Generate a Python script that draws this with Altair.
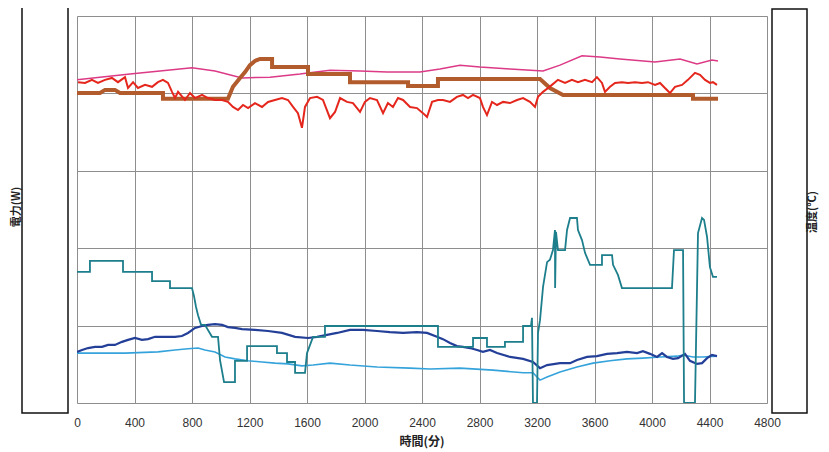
import altair as alt
import pandas as pd

x_ticks = list(range(0, 4801, 400))
y_grid = [0, 20, 40, 60, 80, 100]

# Pink (upper temperature-like smooth line)
pink_t = [0, 160, 369, 577, 800, 960, 1148, 1343, 1551, 1760, 1969, 2157, 2386, 2525, 2664, 2803,
          3012, 3242, 3360, 3513, 3638, 3777, 4021, 4195, 4313, 4417, 4459]
pink_v = [83.5, 84.2, 85.0, 85.8, 86.6, 85.8, 84.0, 84.2, 85.0, 86.0, 85.8, 85.5, 85.5, 86.3, 87.3, 86.8,
          86.3, 85.8, 87.3, 89.7, 89.4, 88.9, 88.1, 88.9, 87.6, 88.6, 88.4]

# Red noisy line
red_t = [7, 56, 104, 146, 195, 243, 285, 334, 355, 390, 424, 473, 522, 563, 598, 633, 661, 682, 703, 751,
         786, 821, 870, 911, 960, 1009, 1050, 1085, 1120, 1155, 1190, 1238, 1287, 1329, 1377, 1426, 1468,
         1503, 1537, 1565, 1586, 1621, 1670, 1711, 1760, 1795, 1830, 1878, 1920, 1969, 2003, 2038, 2087,
         2129, 2163, 2198, 2233, 2268, 2317, 2365, 2407, 2435, 2470, 2511, 2546, 2595, 2643, 2685, 2720,
         2755, 2803, 2824, 2852, 2887, 2922, 2964, 3012, 3061, 3103, 3151, 3186, 3207, 3242, 3277, 3304,
         3346, 3395, 3443, 3485, 3534, 3583, 3617, 3652, 3673, 3708, 3743, 3791, 3833, 3882, 3930, 3972,
         4021, 4056, 4090, 4125, 4160, 4209, 4250, 4299, 4334, 4369, 4403, 4424, 4452]
red_v = [82.9, 82.7, 83.5, 82.7, 83.5, 84.0, 82.9, 84.2, 81.4, 82.9, 81.4, 82.2, 81.7, 82.9, 83.5, 82.7,
         80.4, 78.8, 80.4, 78.3, 80.1, 78.8, 79.6, 78.8, 78.3, 78.3, 77.8, 76.5, 75.7, 77.0, 76.2, 77.5,
         76.5, 77.8, 78.3, 78.8, 78.3, 76.5, 74.9, 71.1, 76.5, 78.8, 79.1, 78.3, 73.6, 75.2, 78.8, 77.8,
         77.5, 75.2, 77.8, 78.8, 78.3, 74.9, 77.5, 76.5, 78.8, 78.3, 76.5, 76.2, 74.9, 73.9, 77.8, 78.3,
         78.3, 77.8, 79.1, 79.6, 78.8, 79.6, 78.8, 76.5, 74.4, 77.8, 77.0, 77.8, 77.5, 78.3, 78.8, 77.8,
         76.5, 79.1, 80.4, 81.4, 82.2, 83.5, 82.7, 83.5, 82.9, 83.5, 82.9, 84.2, 82.7, 80.4, 81.7, 82.7,
         82.9, 82.7, 82.9, 82.7, 82.9, 82.2, 82.7, 81.4, 80.1, 81.7, 82.2, 83.5, 85.3, 84.8, 83.5, 82.7,
         82.9, 82.2]

# Brown step line
brown_t = [0, 160, 195, 264, 299, 598, 598, 1050, 1085, 1134, 1169, 1203, 1238, 1273, 1357, 1357, 1607,
           1607, 1899, 1899, 2303, 2303, 2511, 2511, 3221, 3290, 3381, 4285, 4285, 4459]
brown_v = [80.1, 80.1, 80.9, 80.9, 80.1, 80.1, 78.6, 78.6, 81.7, 84.0, 85.5, 87.3, 88.4, 88.9, 88.9, 86.8,
           86.8, 85.0, 85.0, 82.9, 82.9, 81.9, 81.9, 83.7, 83.7, 81.4, 79.6, 79.6, 78.6, 78.6]

# Teal step line (lower region)
teal_t = [0, 90, 90, 320, 320, 522, 522, 647, 647, 800, 814, 828, 842, 863, 890, 939, 981, 995, 1023, 1099,
          1099, 1183, 1183, 1391, 1391, 1461, 1461, 1517, 1517, 1586, 1600, 1642, 1725, 1725, 2511, 2511,
          2755, 2755, 2852, 2852, 2977, 2977, 3103, 3103, 3158, 3165, 3172, 3200, 3207, 3221, 3242, 3270,
          3290, 3311, 3325, 3326, 3332, 3346, 3395, 3409, 3430, 3478, 3485, 3513, 3534, 3569, 3652, 3652,
          3722, 3729, 3763, 3791, 4139, 4153, 4216, 4223, 4299, 4320, 4348, 4362, 4383, 4403, 4424, 4452]
teal_v = [33.9, 33.9, 36.7, 36.7, 33.9, 33.9, 31.5, 31.5, 29.7, 29.7, 27.6, 24.8, 22.7, 20.2, 20.2, 17.1,
          17.1, 11.1, 5.4, 5.4, 10.9, 10.9, 14.7, 14.7, 12.9, 12.9, 10.6, 10.6, 7.8, 7.8, 12.9, 17.1, 17.1,
          19.9, 19.9, 14.5, 14.5, 16.8, 16.8, 14.5, 14.5, 15.8, 15.8, 19.9, 19.9, 22.0, 0.0, 0.0, 18.1,
          21.4, 30.0, 36.4, 37.0, 39.5, 44.7, 29.7, 44.2, 39.5, 39.5, 44.7, 47.8, 47.8, 44.7, 42.1, 38.8,
          35.7, 35.7, 38.2, 38.2, 35.7, 33.1, 29.7, 29.7, 39.5, 39.5, 0.0, 0.0, 43.9, 47.8, 47.3, 42.9,
          35.1, 32.6, 32.6]

# Dark blue line
dblue_t = [0, 35, 77, 125, 174, 216, 264, 313, 355, 403, 452, 494, 543, 591, 633, 682, 730, 772, 821, 870,
           911, 960, 1009, 1050, 1099, 1148, 1238, 1329, 1426, 1517, 1607, 1670, 1739, 1809, 1899, 1990,
           2087, 2177, 2268, 2365, 2435, 2504, 2546, 2595, 2643, 2685, 2734, 2783, 2824, 2873, 2922, 3012,
           3103, 3172, 3221, 3270, 3360, 3430, 3478, 3548, 3617, 3687, 3757, 3826, 3896, 3937, 3986, 4035,
           4070, 4104, 4146, 4181, 4230, 4264, 4313, 4348, 4383, 4417, 4452]
dblue_v = [13.2, 13.7, 14.2, 14.5, 14.5, 15.0, 15.0, 15.8, 16.3, 16.8, 16.3, 16.5, 17.1, 17.1, 17.1, 17.1,
           17.3, 18.1, 19.4, 19.9, 20.2, 20.4, 20.2, 19.6, 19.4, 19.1, 18.9, 18.6, 18.1, 17.1, 16.8, 17.1,
           17.6, 18.1, 18.9, 18.9, 18.6, 18.3, 18.1, 18.3, 18.1, 17.1, 16.5, 15.5, 14.7, 14.5, 14.2, 13.7,
           13.2, 13.7, 12.9, 11.9, 11.4, 10.6, 9.0, 9.8, 10.3, 10.3, 11.1, 11.9, 12.1, 12.7, 12.9, 13.2,
           12.9, 13.4, 12.7, 11.9, 12.9, 11.9, 11.4, 11.6, 12.7, 10.9, 10.1, 10.3, 11.6, 12.4, 12.1]

# Light blue line
lblue_t = [0, 125, 334, 563, 682, 772, 842, 890, 960, 1030, 1099, 1190, 1287, 1377, 1468, 1565, 1642, 1760,
           1899, 2087, 2317, 2456, 2664, 2894, 3103, 3172, 3200, 3221, 3270, 3360, 3478, 3590, 3708, 3826,
           3937, 4056, 4174, 4216, 4285, 4355, 4452]
lblue_v = [12.9, 12.9, 12.9, 13.2, 13.7, 14.0, 14.2, 13.7, 13.2, 11.9, 11.4, 10.9, 10.6, 10.3, 10.1, 9.6,
           9.8, 10.3, 9.8, 9.3, 9.0, 8.8, 9.0, 8.5, 7.8, 7.8, 6.7, 5.9, 6.7, 8.0, 9.3, 10.3, 10.9, 11.4,
           11.6, 11.9, 12.1, 12.4, 11.9, 11.9, 12.1]

GRID = "#8e8e8e"
x_scale = alt.Scale(domain=[0, 4800], nice=False, zero=False)
y_scale = alt.Scale(domain=[0, 100], nice=False, zero=False)

x_axis = alt.Axis(values=x_ticks, title=None, format="d", grid=True, gridColor=GRID, gridWidth=1,
                  gridOpacity=1, ticks=False, domain=False, labelFlush=False,
                  labelFont="Liberation Sans", labelFontSize=12, labelColor="#333333",
                  labelPadding=14)
y_axis = alt.Axis(values=y_grid, grid=True, gridColor=GRID, gridWidth=1, gridOpacity=1,
                  labels=False, ticks=False, domain=False, title=None)


def line_layer(t, v, color, width):
    df = pd.DataFrame({"t": t, "v": v, "i": list(range(len(t)))})
    return alt.Chart(df).mark_line(color=color, strokeWidth=width, clip=True).encode(
        x=alt.X("t:Q", scale=x_scale, axis=x_axis),
        y=alt.Y("v:Q", scale=y_scale, axis=y_axis),
        order=alt.Order("i:Q"),
    )


one = alt.Data(values=[{"a": 1}])
left_box = alt.Chart(one).mark_rect(fill="white", stroke="#111111", strokeWidth=1.5).encode(
    x=alt.value(-55), x2=alt.value(-9), y=alt.value(-10), y2=alt.value(397))
right_box = alt.Chart(one).mark_rect(fill="white", stroke="#111111", strokeWidth=1.5).encode(
    x=alt.value(695), x2=alt.value(730), y=alt.value(-7), y2=alt.value(397))
left_text = alt.Chart(one).mark_text(text="電力(W)", angle=270, font="Noto Sans CJK JP", fontSize=11,
                                     fontWeight="bold", align="center", baseline="middle",
                                     color="#222222").encode(x=alt.value(-60), y=alt.value(191))
right_text = alt.Chart(one).mark_text(text="温度(°C)", angle=270, font="Noto Sans CJK JP", fontSize=11,
                                      fontWeight="bold", align="center", baseline="middle",
                                      color="#222222").encode(x=alt.value(736), y=alt.value(196))
x_title = alt.Chart(one).mark_text(text="時間(分)", font="Noto Sans CJK JP", fontSize=12,
                                   fontWeight="bold", align="center", baseline="alphabetic",
                                   color="#222222").encode(x=alt.value(345), y=alt.value(430))

chart = alt.layer(
    line_layer(pink_t, pink_v, "#dc3a86", 1.5),
    line_layer(brown_t, brown_v, "#b25b2c", 4),
    line_layer(red_t, red_v, "#e5261c", 2),
    line_layer(lblue_t, lblue_v, "#35a3db", 1.6),
    line_layer(dblue_t, dblue_v, "#233f98", 2.2),
    line_layer(teal_t, teal_v, "#1d7e8c", 1.8),
    left_box, right_box, left_text, right_text, x_title,
).properties(
    width=690, height=387,
    autosize=alt.AutoSizeParams(type="none"),
    padding={"left": 69, "top": 8, "right": 54, "bottom": 46},
).configure_view(stroke=GRID, strokeWidth=1).configure(background="white")

chart.save("out.html", embed_options={"renderer": "svg", "actions": False})
